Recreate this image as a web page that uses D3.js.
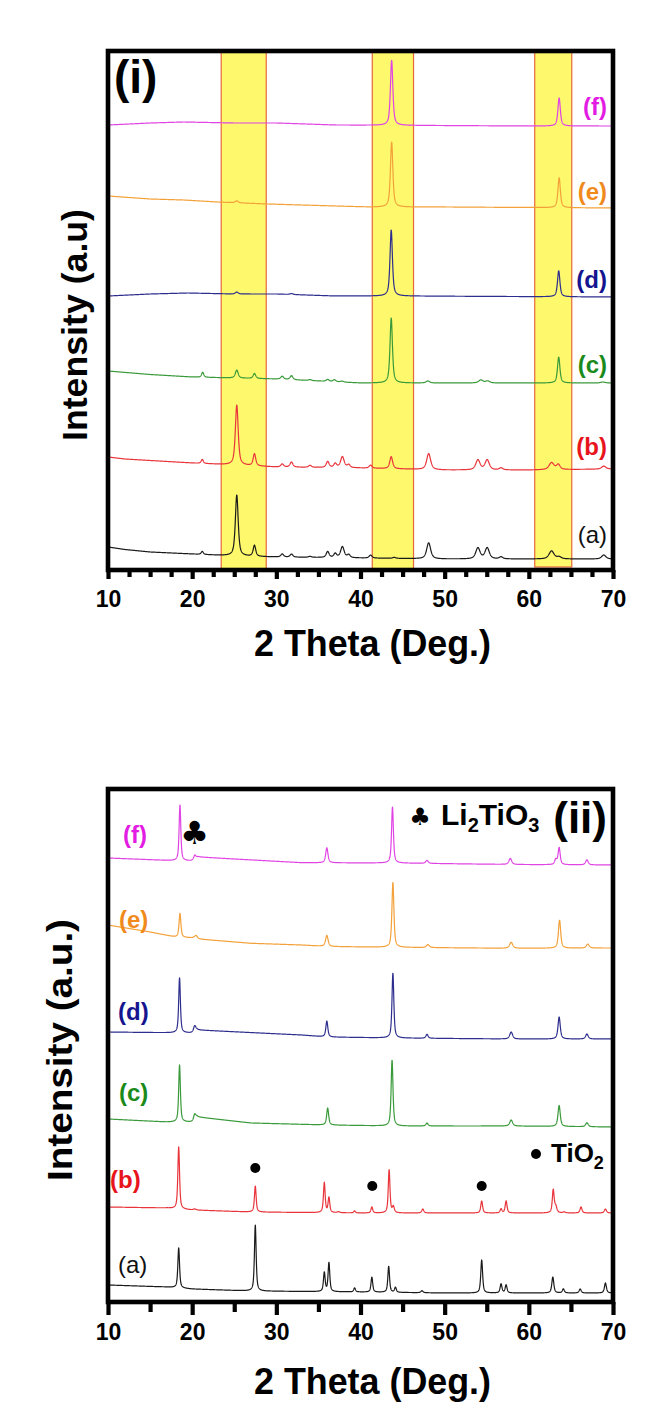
<!DOCTYPE html>
<html>
<head>
<meta charset="utf-8">
<script src="https://cdn.jsdelivr.net/npm/d3@7"></script>
<style>
  html, body { margin: 0; padding: 0; background: #ffffff; }
  svg { display: block; font-family: "Liberation Sans", Arial, Helvetica, sans-serif; }
</style>
</head>
<body>
<svg id="chart" width="668" height="1403"></svg>
<script>
// ---------------- data ----------------
// sample order: (a) .. (f), drawn bottom to top
const sampleNames = ["(a)", "(b)", "(c)", "(d)", "(e)", "(f)"];
const lineColors  = ["#1a1a1a", "#e8343a", "#3a9a3a", "#2e2e8e", "#f3a13a", "#e044e4"];
const labelColors = ["#111111", "#e8141c", "#1a8a1a", "#15158f", "#f08a1c", "#e31ce3"];
const xTickLabels = [10, 20, 30, 40, 50, 60, 70];

// highlighted 2θ windows in panel (i)
const bandRanges = [[23.45, 28.8], [41.4, 46.3], [60.7, 65.1]];

// panel (i): baseline knots [2θ, intensity] and reflections [2θ, height, half-width]
const baseI_a = [[10, 23], [12, 20.5], [15, 18], [20, 16], [25, 14], [30, 13], [40, 12], [50, 11], [70, 11]];
const peaksI_a = [[21.2, 3, 0.15], [25.3, 61, 0.2], [27.4, 11, 0.18], [30.7, 3, 0.2], [31.8, 3, 0.2],
  [34.0, 1, 0.2], [36.1, 6, 0.2], [37.0, 4, 0.2], [37.85, 11, 0.25], [38.6, 3, 0.2], [41.2, 3, 0.2],
  [44.0, 1, 0.2], [48.1, 16, 0.28], [53.95, 11, 0.3], [55.05, 11, 0.3], [56.7, 2, 0.25],
  [62.7, 8, 0.35], [63.6, 2, 0.3], [68.9, 4, 0.3]];

const baseI_b = [[10, 113], [12, 111], [15, 109.5], [20, 107], [25, 105], [30, 103], [40, 102], [50, 100], [60, 100], [70, 101]];
const peaksI_b = [[21.2, 4, 0.15], [25.3, 60, 0.2], [27.4, 12, 0.18], [30.7, 3, 0.2], [31.8, 5, 0.2],
  [34.0, 2, 0.2], [36.1, 6, 0.2], [37.0, 4, 0.2], [37.85, 11, 0.25], [38.6, 3, 0.2], [41.2, 3, 0.2],
  [43.65, 12, 0.2], [48.1, 16, 0.28], [53.95, 10, 0.3], [55.05, 10, 0.3], [56.7, 2, 0.25],
  [62.7, 7, 0.35], [63.5, 5, 0.25], [68.9, 3, 0.3]];

const baseI_c = [[10, 199], [15, 195.5], [20, 193], [25, 192], [30, 191], [35, 189], [40, 187], [50, 187], [70, 187]];
const peaksI_c = [[21.25, 5, 0.15], [25.3, 8, 0.2], [27.4, 5, 0.18], [30.7, 3, 0.2], [31.8, 4, 0.2],
  [34.0, 1, 0.2], [36.1, 2, 0.2], [36.9, 2, 0.2], [37.8, 1, 0.2], [43.65, 65, 0.17],
  [48.0, 2, 0.25], [54.3, 3, 0.3], [55.1, 2, 0.3], [63.55, 26, 0.17], [68.8, 1, 0.3]];

const baseI_d = [[10, 274], [15, 276], [19.5, 277], [25, 276], [30, 276], [37, 274], [45, 274], [70, 273]];
const peaksI_d = [[25.3, 2, 0.2], [31.8, 1, 0.2], [43.65, 66, 0.17], [63.55, 26, 0.17]];

const baseI_e = [[10, 374], [15, 371], [19, 370], [23, 368], [29, 366], [41, 363], [50, 363], [70, 362]];
const peaksI_e = [[25.3, 2, 0.2], [43.7, 65, 0.17], [63.6, 30, 0.17]];

const baseI_f = [[10, 445], [15, 447], [19, 448], [25, 447], [30, 447], [37, 445], [60, 444], [70, 444]];
const peaksI_f = [[43.7, 65, 0.17], [63.6, 28, 0.17]];

// panel (ii)
const baseII_a = [[10, 17], [17, 15], [20, 13], [27, 11], [40, 10], [50, 9], [70, 9]];
const peaksII_a = [[18.4, 40, 0.12], [27.5, 66, 0.12], [35.7, 19, 0.12], [36.25, 29, 0.12],
  [39.3, 4, 0.12], [41.35, 15, 0.12], [43.35, 26, 0.12], [44.15, 5, 0.12], [47.3, 2, 0.15],
  [54.4, 33, 0.13], [56.7, 9, 0.13], [57.3, 8, 0.13], [62.85, 16, 0.14], [64.1, 4, 0.14],
  [66.1, 4, 0.14], [69.1, 10, 0.14]];

const baseII_b = [[10, 95], [17, 94], [20, 92], [27, 90], [40, 89], [50, 89], [70, 89]];
const peaksII_b = [[18.4, 62, 0.12], [20.3, 1, 0.2], [27.5, 26, 0.12], [35.7, 30, 0.12], [36.25, 15, 0.12],
  [37.4, 1, 0.15], [39.3, 2, 0.12], [41.35, 6, 0.12], [43.4, 43, 0.12], [43.9, 6, 0.14],
  [47.4, 4, 0.14], [54.4, 12, 0.13], [56.7, 4, 0.13], [57.3, 12, 0.13], [62.9, 23, 0.13],
  [63.2, 6, 0.15], [64.2, 1, 0.15], [66.2, 6, 0.14], [69.1, 4, 0.15]];

const baseII_c = [[10, 183], [17, 180], [20.1, 180], [20.6, 185], [27, 179], [36, 177], [44, 176], [58, 176], [70, 175]];
const peaksII_c = [[18.5, 57, 0.12], [20.3, 6, 0.18], [36.1, 17, 0.14], [43.75, 66, 0.13],
  [47.9, 3, 0.15], [57.9, 6, 0.2], [63.6, 21, 0.16], [66.9, 4, 0.18]];

const baseII_d = [[10, 270], [17, 269.3], [20.1, 269], [20.6, 272], [33, 267], [36, 265], [44, 264], [58, 263], [70, 263]];
const peaksII_d = [[18.5, 55, 0.12], [20.3, 6, 0.18], [36.0, 16, 0.14], [43.85, 65, 0.13],
  [47.9, 4, 0.15], [57.9, 7, 0.2], [63.6, 22, 0.16], [66.9, 5, 0.18]];

const baseII_e = [[10, 377], [15, 370], [18, 365], [20.2, 364], [20.7, 363], [27, 358.7], [33, 357], [36, 355.5], [44, 354.7], [58, 353.7], [70, 354]];
const peaksII_e = [[18.55, 24, 0.13], [20.45, 3, 0.2], [36.0, 11, 0.18], [43.85, 65, 0.14],
  [48.0, 3, 0.2], [57.9, 6, 0.22], [63.65, 28, 0.16], [67.0, 4, 0.2]];

const baseII_f = [[10, 444], [18, 441.3], [20.2, 441], [20.7, 445], [33, 439.3], [44, 439], [58, 437.5], [70, 437]];
const peaksII_f = [[18.55, 56, 0.12], [20.3, 5, 0.18], [36.0, 15, 0.16], [43.8, 56, 0.13],
  [47.9, 3, 0.18], [57.8, 6, 0.2], [63.2, 5, 0.15], [63.6, 17, 0.15], [66.9, 5, 0.18]];

// phase markers: [2θ, intensity level]
const tiO2Marks = [[27.5, 134], [41.4, 116], [54.4, 116]];
const li2TiO3Marks = [[20.3, 469]];

const seriesI  = [[baseI_a, peaksI_a], [baseI_b, peaksI_b], [baseI_c, peaksI_c], [baseI_d, peaksI_d], [baseI_e, peaksI_e], [baseI_f, peaksI_f]];
const seriesII = [[baseII_a, peaksII_a], [baseII_b, peaksII_b], [baseII_c, peaksII_c], [baseII_d, peaksII_d], [baseII_e, peaksII_e], [baseII_f, peaksII_f]];

// ---------------- drawing ----------------
const svg = d3.select("#chart");
svg.append("rect").attr("width", 668).attr("height", 1403).attr("fill", "#ffffff");

const x = d3.scaleLinear().domain([10, 70]).range([108, 613]);
const grid = d3.range(10, 70.0001, 0.02);

// pattern = baseline (piecewise linear through knots) + pseudo-Voigt reflections
function pattern(base, peaks) {
  const baseAt = d3.scaleLinear().domain(base.map(d => d[0])).range(base.map(d => d[1]));
  return grid.map(t => {
    let v = baseAt(t);
    for (const [p, h, w] of peaks) {
      const u = (t - p) / w;
      v += h * (0.65 / (1 + u * u) + 0.35 * Math.exp(-0.6931 * u * u));
    }
    return [t, v];
  });
}

function drawPanel(cfg) {
  const g = svg.append("g");
  const y = cfg.y;
  const [yBot, yTopPx] = y.range();

  // highlight windows
  if (cfg.bands) {
    g.selectAll("rect.band").data(cfg.bands).join("rect")
      .attr("class", "band")
      .attr("x", d => x(d[0]))
      .attr("width", d => x(d[1]) - x(d[0]))
      .attr("y", yTopPx + 1)
      .attr("height", (d, i) => yBot - yTopPx - 1 - (i === 2 ? 3 : 0))
      .attr("fill", "#fdf86c")
      .attr("stroke", "#e8683c")
      .attr("stroke-width", 1.2);
  }

  // diffraction patterns
  const line = d3.line().x(d => x(d[0])).y(d => y(d[1]));
  g.selectAll("path.xrd").data(cfg.series).join("path")
    .attr("class", "xrd")
    .attr("d", d => line(pattern(d[0], d[1])))
    .attr("fill", "none")
    .attr("stroke", (d, i) => lineColors[i])
    .attr("stroke-width", 1.2)
    .attr("stroke-linejoin", "round");

  // sample labels
  g.selectAll("text.sample").data(sampleNames).join("text")
    .attr("class", "sample")
    .attr("x", (d, i) => cfg.labelPos[i][0])
    .attr("y", (d, i) => cfg.labelPos[i][1])
    .attr("text-anchor", cfg.labelAnchor)
    .attr("font-size", 24)
    .attr("font-weight", (d, i) => i === 0 ? "normal" : "bold")
    .attr("fill", (d, i) => labelColors[i])
    .text(d => d);

  // frame
  g.append("rect")
    .attr("x", x(10)).attr("y", yTopPx)
    .attr("width", x(70) - x(10)).attr("height", yBot - yTopPx)
    .attr("fill", "none").attr("stroke", "#000").attr("stroke-width", 4.6);

  // x axis ticks
  const minorAxis = d3.axisBottom(x).tickValues(cfg.minorTicks).tickSize(cfg.minorLen).tickFormat("");
  const majorAxis = d3.axisBottom(x).tickValues(xTickLabels).tickSize(cfg.majorLen)
    .tickPadding(cfg.pad).tickFormat(d3.format("d"));
  [minorAxis, majorAxis].forEach(ax => {
    const a = g.append("g").attr("transform", `translate(0,${yBot})`).call(ax);
    a.select(".domain").remove();
    a.selectAll(".tick line").attr("stroke", "#000").attr("stroke-width", 4.2);
    a.selectAll(".tick text").attr("fill", "#000").attr("font-size", 23).attr("font-weight", "bold")
      .attr("font-family", "'Liberation Sans', Arial, sans-serif");
  });

  // axis titles
  g.append("text")
    .attr("x", (x(10) + x(70)) / 2 + 12).attr("y", cfg.xTitleY)
    .attr("text-anchor", "middle").attr("font-size", 36).attr("font-weight", "bold")
    .attr("textLength", 237).attr("lengthAdjust", "spacingAndGlyphs")
    .text("2 Theta (Deg.)");
  g.append("text")
    .attr("transform", `translate(${cfg.yTitleX},${cfg.yTitleCY}) rotate(-90)`)
    .attr("text-anchor", "middle").attr("font-size", 35).attr("font-weight", "bold")
    .attr("textLength", cfg.yTitleLen).attr("lengthAdjust", "spacingAndGlyphs")
    .text(cfg.yTitle);

  return g;
}

// ----- panel (i) -----
const yI = d3.scaleLinear().domain([0, 519]).range([570, 51]);
const gI = drawPanel({
  y: yI,
  series: seriesI,
  bands: bandRanges,
  labelPos: [[607, 543], [607, 455], [607, 373], [607, 288], [607, 200], [607, 115]],
  labelAnchor: "end",
  minorTicks: d3.range(12.5, 70, 2.5).filter(v => v % 10 !== 0),
  minorLen: 7, majorLen: 9, pad: 12,
  xTitleY: 656,
  yTitle: "Intensity (a.u)", yTitleX: 87, yTitleCY: 325, yTitleLen: 232
});
gI.append("text").attr("x", 114).attr("y", 93)
  .attr("font-size", 46).attr("font-weight", "bold").text("(i)");

// ----- panel (ii) -----
const yII = d3.scaleLinear().domain([0, 513]).range([1302, 789]);
const gII = drawPanel({
  y: yII,
  series: seriesII,
  bands: null,
  labelPos: [[118, 1273], [110, 1188], [119, 1101], [118, 1020], [119, 928], [123, 843]],
  labelAnchor: "start",
  minorTicks: [15, 25, 35, 45, 55, 65],
  minorLen: 10, majorLen: 13, pad: 9,
  xTitleY: 1394,
  yTitle: "Intensity (a.u.)", yTitleX: 72, yTitleCY: 1050, yTitleLen: 262
});

// TiO2 reflections on (b)
gII.selectAll("circle.tio2").data(tiO2Marks).join("circle")
  .attr("class", "tio2")
  .attr("cx", d => x(d[0])).attr("cy", d => yII(d[1])).attr("r", 5).attr("fill", "#000");

// Li2TiO3 marker on (f)
gII.selectAll("text.club").data(li2TiO3Marks).join("text")
  .attr("class", "club")
  .attr("x", d => x(d[0])).attr("y", d => yII(d[1]) + 11)
  .attr("text-anchor", "middle").attr("font-size", 32)
  .attr("font-family", "'DejaVu Sans', sans-serif").text("♣");

// legend: ♣ Li2TiO3
gII.append("text").attr("x", 420).attr("y", 825).attr("text-anchor", "middle")
  .attr("font-size", 24).attr("font-family", "'DejaVu Sans', sans-serif").text("♣");
const li = gII.append("text").attr("x", 441).attr("y", 825)
  .attr("font-size", 30).attr("font-weight", "bold");
li.append("tspan").text("Li");
li.append("tspan").attr("font-size", 20).attr("dy", 7).text("2");
li.append("tspan").attr("dy", -7).text("TiO");
li.append("tspan").attr("font-size", 20).attr("dy", 7).text("3");

gII.append("text").attr("x", 607).attr("y", 833).attr("text-anchor", "end")
  .attr("font-size", 44).attr("font-weight", "bold").text("(ii)");

// legend: ● TiO2
gII.append("circle").attr("cx", 536).attr("cy", 1154).attr("r", 5).attr("fill", "#000");
const ti = gII.append("text").attr("x", 551).attr("y", 1162)
  .attr("font-size", 26).attr("font-weight", "bold");
ti.append("tspan").text("TiO");
ti.append("tspan").attr("font-size", 18).attr("dy", 7).text("2");
</script>
</body>
</html>
